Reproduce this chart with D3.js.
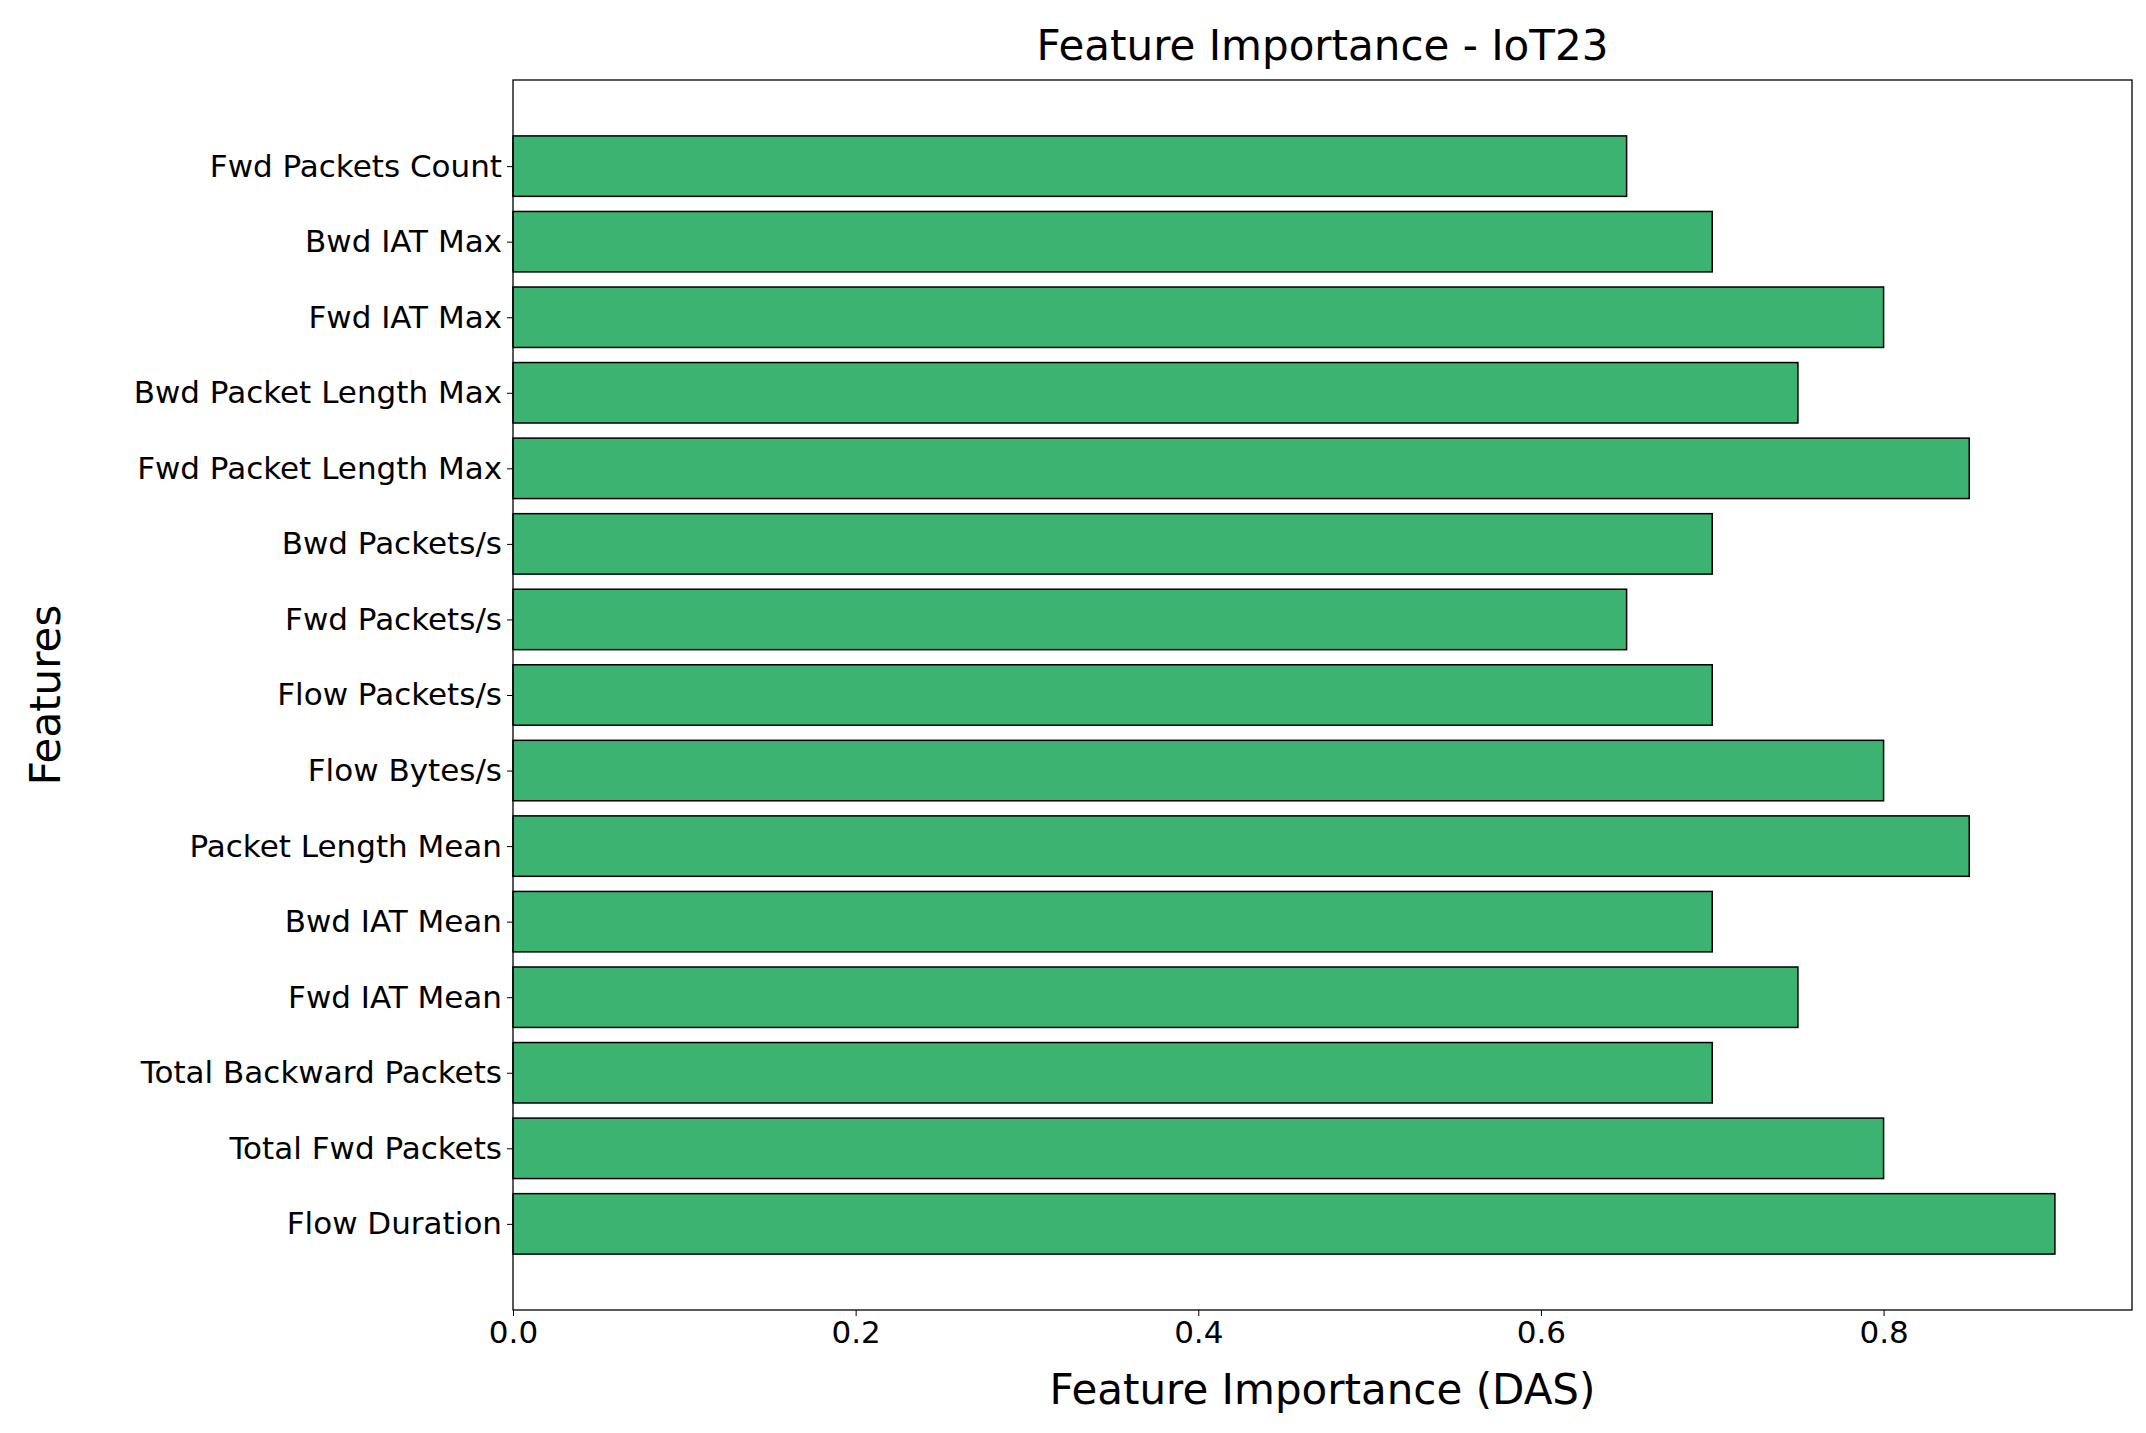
<!DOCTYPE html><html><head><meta charset="utf-8">
<script src="https://cdn.jsdelivr.net/npm/d3@7"></script>
<style>body{margin:0;background:#fff}text{font-family:"DejaVu Sans",sans-serif}</style></head><body>
<svg id="c" width="2146" height="1433"></svg>
<script>
const categories=["Fwd Packets Count","Bwd IAT Max","Fwd IAT Max","Bwd Packet Length Max","Fwd Packet Length Max","Bwd Packets/s","Fwd Packets/s","Flow Packets/s","Flow Bytes/s","Packet Length Mean","Bwd IAT Mean","Fwd IAT Mean","Total Backward Packets","Total Fwd Packets","Flow Duration"];
const values=[0.65,0.7,0.8,0.75,0.85,0.7,0.65,0.7,0.8,0.85,0.7,0.75,0.7,0.8,0.9];
const xTicks=[0,0.2,0.4,0.6,0.8];
const svg=d3.select("#c");
const L=513,R=2132,T=80,B=1310;
const x=d3.scaleLinear().domain([0,0.945]).range([L,R]);
const n=categories.length;
const y=d3.scaleLinear().domain([-1.14,n-1+1.14]).range([T,B]);
const bh=y(0.8)-y(0);
svg.selectAll("rect.bar").data(values).join("rect").attr("class","bar")
 .attr("x",x(0)).attr("y",(d,i)=>y(i)-bh/2).attr("width",d=>x(d)-x(0)).attr("height",bh)
 .attr("fill","#3cb371").attr("stroke","#000").attr("stroke-width",1.5);
svg.append("rect").attr("x",L).attr("y",T).attr("width",R-L).attr("height",B-T).attr("fill","none").attr("stroke","#000").attr("stroke-width",1.3);
const xa=svg.append("g").attr("transform",`translate(0,${B})`).call(d3.axisBottom(x).tickValues(xTicks).tickFormat(d3.format(".1f")).tickSize(6).tickPadding(5));
xa.select(".domain").remove();
xa.selectAll("text").attr("font-size",31).attr("fill","#000").attr("font-family","DejaVu Sans");
const ya=svg.append("g").attr("transform",`translate(${L},0)`).call(d3.axisLeft(y).tickValues(d3.range(n)).tickFormat(i=>categories[i]).tickSize(6).tickPadding(5));
ya.select(".domain").remove();
ya.selectAll("text").attr("font-size",31).attr("fill","#000").attr("font-family","DejaVu Sans");
svg.append("text").attr("x",(L+R)/2).attr("y",60).attr("text-anchor","middle").attr("font-size",42).text("Feature Importance - IoT23");
svg.append("text").attr("x",(L+R)/2).attr("y",1404).attr("text-anchor","middle").attr("font-size",42).text("Feature Importance (DAS)");
svg.append("text").attr("transform",`translate(60,${(T+B)/2}) rotate(-90)`).attr("text-anchor","middle").attr("font-size",42).text("Features");
</script></body></html>
